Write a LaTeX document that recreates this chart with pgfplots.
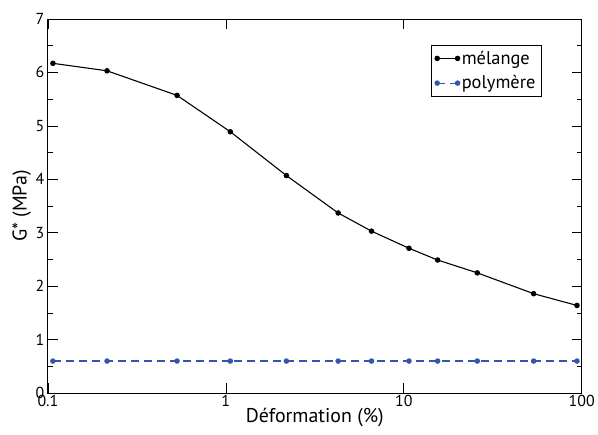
\documentclass[border=0pt]{standalone}
\usepackage{fontspec}
\setmainfont{PT Sans}
\usepackage{pgfplots}
\pgfplotsset{compat=1.18}
\definecolor{polyblue}{RGB}{51,85,170}
\newcommand{\tickfont}{\fontsize{16}{19}\selectfont}
\newcommand{\labfont}{\fontsize{20}{24}\selectfont}
\newcommand{\legfont}{\fontsize{18.5}{22}\selectfont}
\begin{document}
\begin{tikzpicture}
\begin{axis}[
  scale only axis,
  width=535bp, height=375bp,
  xmode=log, xmin=0.1, xmax=100,
  ymin=0, ymax=7,
  ytick={0,1,...,7},
  minor ytick={0.5,1.5,...,6.5},
  xtick={0.1,1,10,100},
  xticklabels={0.1,1,10,100},
  log basis x=10,
  tick align=inside,
  ticks=both,
  major tick length=10bp,
  minor tick length=5bp,
  tick style={black, line width=0.6pt},
  axis line style={line width=0.9pt},
  every tick label/.append style={font=\tickfont},
  xticklabel style={yshift=1bp},
  /pgf/number format/assume math mode=true,
  label style={font=\labfont},
  xlabel={Déformation (\%)},
  ylabel={G* (MPa)},
  xlabel style={yshift=6bp},
  ylabel style={yshift=-2bp},
  legend style={at={(0.925,0.931)}, anchor=north east, draw=black, line width=0.6pt,
    font=\legfont, inner xsep=4bp, inner ysep=4bp, row sep=6bp},
  legend cell align=left,
  legend image code/.code={\draw[#1] plot coordinates {(0cm,0cm) (0.72cm,0cm)};},
]
\addplot[black, line width=1.1pt, mark=*, mark size=2.2pt] coordinates {
(0.1067,6.17) (0.215,6.03) (0.532,5.57) (1.06,4.89) (2.19,4.07) (4.28,3.37)
(6.59,3.03) (10.7,2.71) (15.5,2.49) (25.9,2.25) (53.7,1.86) (94.1,1.64)};
\addlegendentry{mélange}
\addplot[polyblue, line width=1.1pt, dash pattern=on 8bp off 5bp, mark=*, mark size=2.2pt, mark options={solid}] coordinates {
(0.1067,0.6) (0.215,0.6) (0.532,0.6) (1.06,0.6) (2.19,0.6) (4.28,0.6)
(6.59,0.6) (10.7,0.6) (15.5,0.6) (25.9,0.6) (53.7,0.6) (94.1,0.6)};
\addlegendentry{polymère}
\end{axis}
\path ([shift={(-48bp,-41bp)}]current axis.south west) rectangle ([shift={(15bp,19bp)}]current axis.north east);
\end{tikzpicture}
\end{document}
